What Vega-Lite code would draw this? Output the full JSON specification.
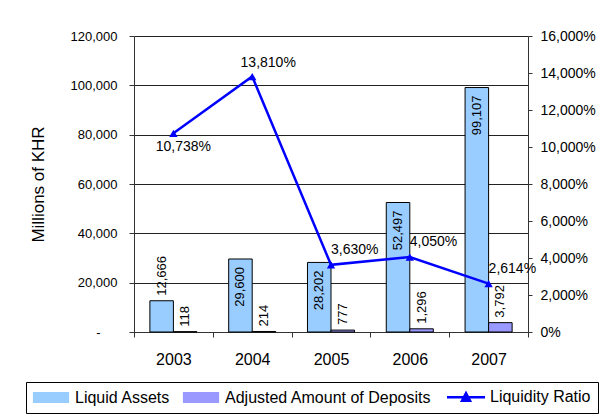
{
  "$schema": "https://vega.github.io/schema/vega-lite/v6.json",
  "autosize": "none",
  "width": 394,
  "height": 296,
  "padding": {"left": 134, "top": 36, "right": 72, "bottom": 87},
  "background": "white",
  "config": {
    "font": "Liberation Sans",
    "view": {"stroke": null},
    "axis": {"labelColor": "black", "titleColor": "black", "domainColor": "#333", "tickColor": "#333"},
    "legend": {
      "title": null, "orient": "none", "direction": "horizontal",
      "legendX": -108, "legendY": 346,
      "strokeColor": "black", "fillColor": "white", "padding": 7,
      "labelFontSize": 16, "labelColor": "black", "labelLimit": 400,
      "symbolSize": 100, "symbolOffset": 10, "labelOffset": 16, "columnPadding": 10
    }
  },
  "datasets": {
    "bars": [
      {"year": "2003", "series": "Liquid Assets", "value": 12666},
      {"year": "2003", "series": "Adjusted Amount of Deposits", "value": 118},
      {"year": "2004", "series": "Liquid Assets", "value": 29600},
      {"year": "2004", "series": "Adjusted Amount of Deposits", "value": 214},
      {"year": "2005", "series": "Liquid Assets", "value": 28202},
      {"year": "2005", "series": "Adjusted Amount of Deposits", "value": 777},
      {"year": "2006", "series": "Liquid Assets", "value": 52497},
      {"year": "2006", "series": "Adjusted Amount of Deposits", "value": 1296},
      {"year": "2007", "series": "Liquid Assets", "value": 99107},
      {"year": "2007", "series": "Adjusted Amount of Deposits", "value": 3792}
    ],
    "ratio": [
      {"year": "2003", "ratio": 107.38},
      {"year": "2004", "ratio": 138.10},
      {"year": "2005", "ratio": 36.30},
      {"year": "2006", "ratio": 40.50},
      {"year": "2007", "ratio": 26.14}
    ]
  },
  "encoding": {
    "x": {
      "field": "year", "type": "ordinal",
      "scale": {"paddingInner": 0, "paddingOuter": 0},
      "axis": {"title": null, "labelAngle": 0, "labelFontSize": 16, "labelPadding": 14, "tickSize": 5, "tickBand": "extent", "domainColor": "#333"}
    }
  },
  "layer": [
    {
      "data": {"name": "bars"},
      "encoding": {
        "xOffset": {"field": "series", "type": "nominal", "scale": {"domain": ["Liquid Assets", "Adjusted Amount of Deposits"], "paddingInner": 0, "paddingOuter": 0.675}},
        "y": {
          "field": "value", "type": "quantitative",
          "scale": {"domain": [0, 120000]},
          "axis": {
            "title": "Millions of KHR", "titleFontSize": 17, "titleFontWeight": "normal", "titlePadding": 23,
            "values": [0, 20000, 40000, 60000, 80000, 100000, 120000],
            "labelExpr": "datum.value == 0 ? '-' : format(datum.value, ',')",
            "labelFontSize": 13, "tickSize": 5,
            "labelPadding": {"condition": {"test": "datum.value == 0", "value": 29}, "value": 12},
            "grid": true, "gridColor": "#222", "gridWidth": 1
          }
        }
      },
      "layer": [
        {
          "mark": {"type": "bar", "stroke": "black", "strokeWidth": 1},
          "encoding": {
            "color": {
              "field": "series", "type": "nominal",
              "scale": {"domain": ["Liquid Assets", "Adjusted Amount of Deposits", "Liquidity Ratio"], "range": ["#99CCFF", "#9999FF", "#0000FF"]},
              "legend": {
                "encode": {
                  "symbols": {
                    "update": {
                      "shape": {"signal": "datum.value == 'Liquidity Ratio' ? 'M-3.8,0H3.8M-0.8,0.7L0,-0.8L0.8,0.7Z' : 'M-3.5,-1H3.5V1H-3.5Z'"},
                      "stroke": {"signal": "datum.value == 'Liquidity Ratio' ? '#0000FF' : 'black'"},
                      "strokeWidth": {"signal": "datum.value == 'Liquidity Ratio' ? 2.5 : 1.2"},
                      "fill": {"signal": "datum.value == 'Liquidity Ratio' ? '#0000FF' : (datum.value == 'Liquid Assets' ? '#99CCFF' : '#9999FF')"},
                      "opacity": {"value": 1},
                      "fillOpacity": {"value": 1},
                      "strokeOpacity": {"value": 1}
                    }
                  }
                }
              }
            }
          }
        },
        {
          "transform": [{"filter": "datum.value >= 20000"}],
          "mark": {"type": "text", "angle": 270, "align": "right", "baseline": "middle", "dx": -8, "fontSize": 13},
          "encoding": {"text": {"field": "value", "type": "quantitative", "format": ","}}
        },
        {
          "transform": [{"filter": "datum.value < 20000"}],
          "mark": {"type": "text", "angle": 270, "align": "left", "baseline": "middle", "dx": 5, "fontSize": 13},
          "encoding": {"text": {"field": "value", "type": "quantitative", "format": ","}}
        }
      ]
    },
    {
      "data": {"name": "ratio"},
      "encoding": {
        "y": {
          "field": "ratio", "type": "quantitative",
          "scale": {"domain": [0, 160]},
          "axis": {
            "orient": "right", "title": null, "grid": false,
            "values": [0, 20, 40, 60, 80, 100, 120, 140, 160],
            "labelExpr": "format(datum.value, ',.0%')", "labelFontSize": 14, "labelPadding": 8, "tickSize": 4
          }
        }
      },
      "layer": [
        {
          "mark": {"type": "line", "color": "#0000FF", "strokeWidth": 2.5, "point": {"shape": "triangle-up", "size": 70, "filled": true, "color": "#0000FF", "opacity": 1}},
          "encoding": {
            "color": {
              "datum": "Liquidity Ratio",
              "legend": {
                "encode": {
                  "symbols": {
                    "update": {
                      "shape": {"signal": "datum.value == 'Liquidity Ratio' ? 'M-3.8,0H3.8M-0.8,0.7L0,-0.8L0.8,0.7Z' : 'M-3.5,-1H3.5V1H-3.5Z'"},
                      "stroke": {"signal": "datum.value == 'Liquidity Ratio' ? '#0000FF' : 'black'"},
                      "strokeWidth": {"signal": "datum.value == 'Liquidity Ratio' ? 2.5 : 1.2"},
                      "fill": {"signal": "datum.value == 'Liquidity Ratio' ? '#0000FF' : (datum.value == 'Liquid Assets' ? '#99CCFF' : '#9999FF')"},
                      "opacity": {"value": 1},
                      "fillOpacity": {"value": 1},
                      "strokeOpacity": {"value": 1}
                    }
                  }
                }
              }
            }
          }
        },
        {
          "transform": [{"filter": "datum.year >= '2005'"}],
          "mark": {"type": "text", "align": "left", "baseline": "middle", "dx": 0, "dy": -15, "fontSize": 14},
          "encoding": {"text": {"field": "ratio", "type": "quantitative", "format": ",.0%"}}
        },
        {
          "transform": [{"filter": "datum.year == '2004'"}],
          "mark": {"type": "text", "align": "center", "baseline": "middle", "dx": 16, "dy": -14, "fontSize": 14},
          "encoding": {"text": {"field": "ratio", "type": "quantitative", "format": ",.0%"}}
        },
        {
          "transform": [{"filter": "datum.year == '2003'"}],
          "mark": {"type": "text", "align": "center", "baseline": "middle", "dx": 10, "dy": 14, "fontSize": 14},
          "encoding": {"text": {"field": "ratio", "type": "quantitative", "format": ",.0%"}}
        }
      ]
    }
  ],
  "resolve": {"scale": {"y": "independent"}}
}
